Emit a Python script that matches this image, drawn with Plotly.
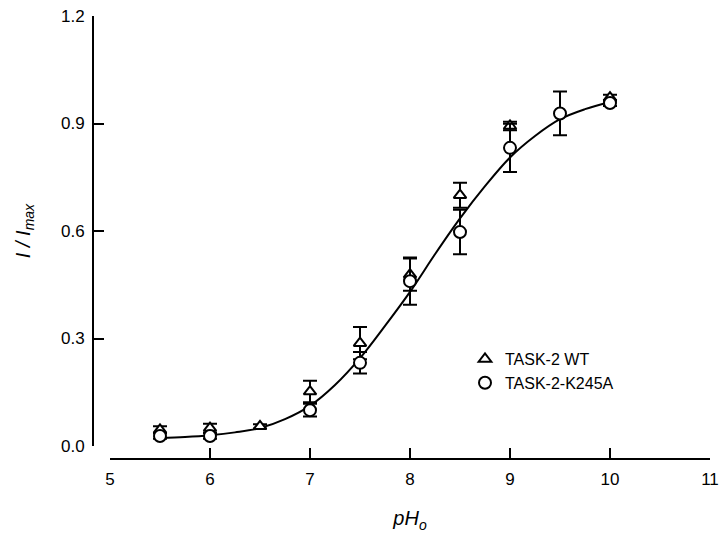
import plotly.graph_objects as go

# Data
ph_wt = [5.5, 6.0, 6.5, 7.0, 7.5, 8.0, 8.5, 9.0, 10.0]
i_wt = [0.045, 0.050, 0.055, 0.152, 0.287, 0.478, 0.700, 0.893, 0.972]
err_wt = [0.010, 0.012, 0.006, 0.030, 0.045, 0.045, 0.035, 0.012, 0.008]

ph_k = [5.5, 6.0, 7.0, 7.5, 8.0, 8.5, 9.0, 9.5, 10.0]
i_k = [0.028, 0.028, 0.100, 0.232, 0.460, 0.597, 0.832, 0.928, 0.957]
err_k = [0.008, 0.008, 0.018, 0.030, 0.066, 0.062, 0.067, 0.061, 0.008]

# Fitted curve
ph_fit = [5.5, 5.75, 6.0, 6.25, 6.5, 6.75, 7.0, 7.25, 7.5, 7.75, 8.0, 8.25,
          8.5, 8.75, 9.0, 9.25, 9.5, 9.75, 10.0]
i_fit = [0.022, 0.025, 0.030, 0.038, 0.050, 0.075, 0.112, 0.170, 0.245, 0.335,
         0.430, 0.535, 0.635, 0.725, 0.805, 0.865, 0.912, 0.940, 0.960]

x_ticks = [5, 6, 7, 8, 9, 10, 11]
y_ticks = [0.0, 0.3, 0.6, 0.9, 1.2]

FONT = "Liberation Sans, Arial, Helvetica, sans-serif"
W, H = 720, 538

fig = go.Figure()
fig.add_trace(go.Scatter(x=ph_fit, y=i_fit, mode="lines", line=dict(color="black", width=2, shape="spline"),
                         showlegend=False, hoverinfo="skip"))
fig.add_trace(go.Scatter(
    x=ph_wt, y=i_wt, mode="markers", name="TASK-2 WT",
    marker=dict(symbol="triangle-up", size=11, color="white", line=dict(color="black", width=2)),
    error_y=dict(type="data", array=err_wt, color="black", thickness=2, width=7),
))
fig.add_trace(go.Scatter(
    x=ph_k, y=i_k, mode="markers", name="TASK-2-K245A",
    marker=dict(symbol="circle", size=12, color="white", line=dict(color="black", width=2)),
    error_y=dict(type="data", array=err_k, color="black", thickness=2, width=7),
))

fig.update_layout(
    width=W, height=H,
    margin=dict(l=0, r=0, t=0, b=0),
    paper_bgcolor="white", plot_bgcolor="white",
    font=dict(family=FONT, size=17, color="black"),
    legend=dict(x=465 / W, y=1 - 342 / H, xanchor="left", yanchor="top",
                bgcolor="rgba(0,0,0,0)", font=dict(size=16), tracegroupgap=0),
    xaxis=dict(
        domain=[110 / W, 710 / W], range=[5, 11],
        anchor="free", position=(H - 459) / H,
        tickvals=x_ticks, ticks="inside", ticklen=10, tickwidth=2, tickcolor="black",
        ticklabelstandoff=5,
        showline=True, linecolor="black", linewidth=2, showgrid=False, zeroline=False,
        title=dict(text="<i>pH<sub>o</sub></i>", standoff=22),
        automargin=False,
    ),
    yaxis=dict(
        domain=[(H - 446) / H, (H - 16) / H], range=[0, 1.2],
        anchor="free", position=93 / W,
        tickvals=y_ticks, tickformat=".1f", ticks="inside", ticklen=10, tickwidth=2, tickcolor="black",
        ticklabelstandoff=4,
        showline=True, linecolor="black", linewidth=2, showgrid=False, zeroline=False,
        title=dict(text="<i>I / I<sub>max</sub></i>", standoff=24),
        automargin=False,
    ),
)

fig.write_html("out.html", config={"displayModeBar": False},
               post_script="document.body.style.margin='0';")
